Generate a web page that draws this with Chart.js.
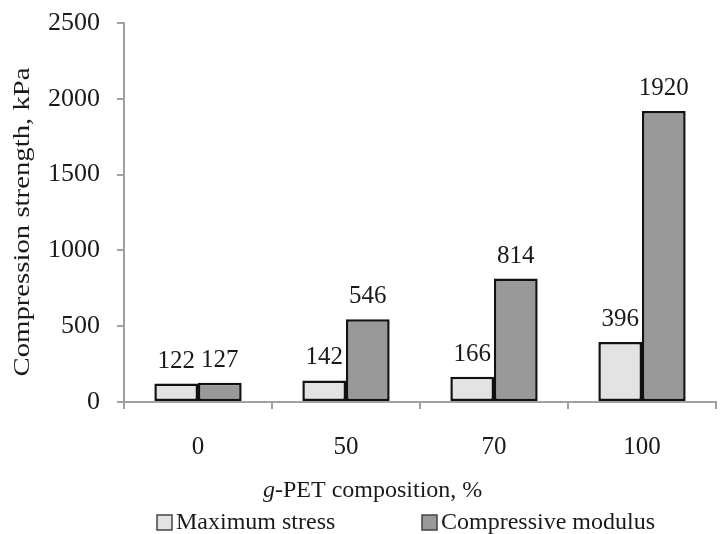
<!DOCTYPE html>
<html>
<head>
<meta charset="utf-8">
<script src="https://cdn.jsdelivr.net/npm/chart.js@4.4.0/dist/chart.umd.min.js"></script>
<style>
  html, body { margin: 0; padding: 0; background: #fff; }
  #wrap { width: 720px; height: 534px; }
</style>
</head>
<body>
<div id="wrap"><canvas id="myChart" width="720" height="534"></canvas></div>
<script>
// data
const categories = ['0', '50', '70', '100'];
const maxStress = [122, 142, 166, 396];
const compModulus = [127, 546, 814, 1920];
const yTicks = [0, 500, 1000, 1500, 2000, 2500];

const serif = '"Liberation Serif", "Times New Roman", serif';
const lightGrey = '#e3e3e3';
const darkGrey = '#999999';
const yTitle = 'Compression strength, kPa';

// value labels above each bar
const valueLabels = {
  id: 'valueLabels',
  afterDatasetsDraw(chart) {
    const ctx = chart.ctx;
    ctx.save();
    ctx.font = '25px ' + serif;
    ctx.fillStyle = '#1a1a1a';
    ctx.textAlign = 'center';
    ctx.textBaseline = 'alphabetic';
    chart.data.datasets.forEach((ds, i) => {
      chart.getDatasetMeta(i).data.forEach((bar, j) => {
        ctx.fillText(String(ds.data[j]), bar.x, bar.y - 16);
      });
    });
    ctx.restore();
  }
};

// y title (slightly stretched like the original), x title with italic g, legend
const extraText = {
  id: 'extraText',
  afterDraw(chart) {
    const ctx = chart.ctx;
    ctx.save();
    ctx.fillStyle = '#1a1a1a';

    // y axis title
    ctx.save();
    ctx.font = '24px ' + serif;
    const w = ctx.measureText(yTitle).width;
    ctx.translate(29, 222);
    ctx.rotate(-Math.PI / 2);
    ctx.scale(309 / w, 1);
    ctx.textAlign = 'center';
    ctx.textBaseline = 'alphabetic';
    ctx.fillText(yTitle, 0, 0);
    ctx.restore();

    // x axis title
    ctx.textBaseline = 'alphabetic';
    ctx.textAlign = 'left';
    let x = 263;
    ctx.font = 'italic 24px ' + serif;
    ctx.fillText('g', x, 497);
    x += ctx.measureText('g').width;
    ctx.font = '24px ' + serif;
    ctx.fillText('-PET composition, %', x, 497);

    // legend
    const items = [
      { x: 157, label: chart.data.datasets[0].label, color: lightGrey },
      { x: 422, label: chart.data.datasets[1].label, color: darkGrey }
    ];
    items.forEach(it => {
      ctx.fillStyle = it.color;
      ctx.fillRect(it.x, 515, 15, 15);
      ctx.strokeStyle = '#444';
      ctx.lineWidth = 1.5;
      ctx.strokeRect(it.x, 515, 15, 15);
      ctx.fillStyle = '#1a1a1a';
      ctx.textBaseline = 'middle';
      ctx.fillText(it.label, it.x + 19, 523);
    });
    ctx.restore();
  }
};

const data = {
  labels: categories,
  datasets: [
    {
      label: 'Maximum stress',
      data: maxStress,
      backgroundColor: lightGrey,
      borderColor: '#111',
      borderWidth: 2.5,
      borderSkipped: false
    },
    {
      label: 'Compressive modulus',
      data: compModulus,
      backgroundColor: darkGrey,
      borderColor: '#111',
      borderWidth: 2.5,
      borderSkipped: false
    }
  ]
};

const chartCtx = document.getElementById('myChart').getContext('2d');

const myChart = new Chart(chartCtx, {
  type: 'bar',
  data: data,
  plugins: [valueLabels, extraText],
  options: {
    responsive: false,
    animation: false,
    layout: { padding: { top: 23, right: 4, left: 6, bottom: 72 } },
    datasets: {
      bar: { categoryPercentage: 0.59, barPercentage: 1.0 }
    },
    plugins: {
      legend: { display: false },
      tooltip: { enabled: false }
    },
    scales: {
      x: {
        grid: { drawOnChartArea: false, drawTicks: true, tickLength: 7, color: '#a0a0a0', lineWidth: 2, offset: true },
        border: { color: '#a0a0a0', width: 2 },
        ticks: { color: '#1a1a1a', font: { family: serif, size: 25 }, padding: 23 },
        afterFit(scale) { scale.height = 60; }
      },
      y: {
        min: 0,
        max: 2500,
        afterBuildTicks(scale) { scale.ticks = yTicks.map(v => ({ value: v })); },
        grid: { drawOnChartArea: false, drawTicks: true, tickLength: 7, color: '#a0a0a0', lineWidth: 2 },
        border: { color: '#a0a0a0', width: 2 },
        ticks: {
          color: '#1a1a1a',
          font: { family: serif, size: 26 },
          padding: 17,
          callback: v => String(v)
        },
        afterFit(scale) {
          scale.width = 118;
          scale.paddingTop = 0;
          scale.paddingBottom = 0;
        }
      }
    }
  }
});
</script>
</body>
</html>
